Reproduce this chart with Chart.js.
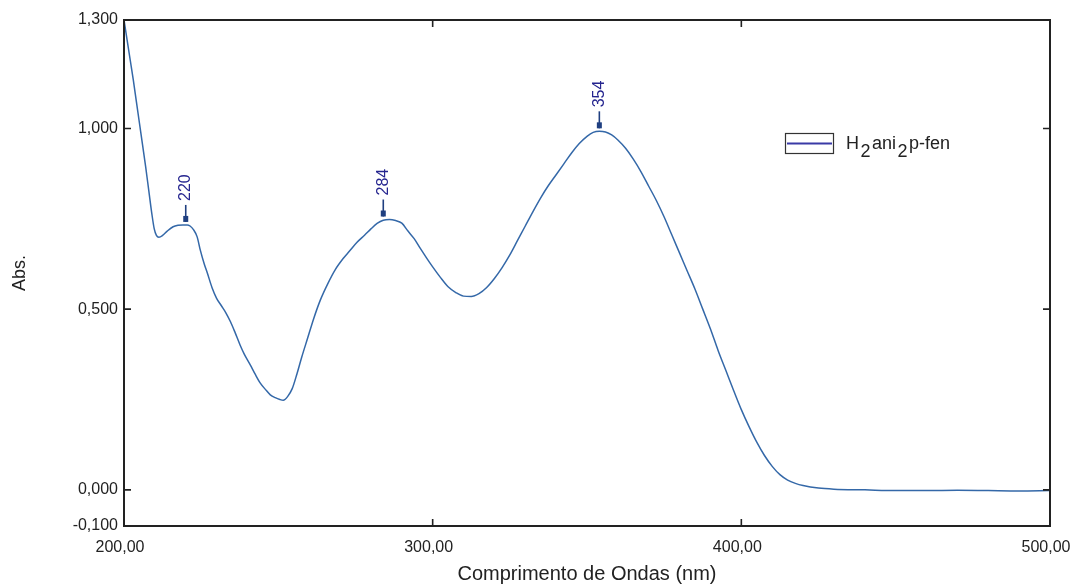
<!DOCTYPE html>
<html>
<head>
<meta charset="utf-8">
<script src="https://cdn.jsdelivr.net/npm/chart.js@4.4.1/dist/chart.umd.min.js"></script>
<style>
  html, body { margin: 0; padding: 0; background: #ffffff; }
  #wrap { width: 1072px; height: 586px; position: relative; }
</style>
</head>
<body>
<div id="wrap"><canvas id="c" width="1072" height="586"></canvas></div>
<script>
// ---- data ----
const wavelengths = [200.0,201.0,202.0,203.0,204.0,205.0,206.0,207.0,208.0,209.0,209.8,210.5,211.3,212.5,214.0,215.9,217.5,219.1,220.5,221.4,222.5,223.7,224.7,226.0,227.0,228.5,230.0,231.5,233.0,234.5,236.0,237.6,239.0,240.9,242.5,244.1,245.8,247.4,249.0,250.5,251.6,253.0,254.5,256.0,257.5,259.5,261.5,263.6,266.0,268.5,271.0,273.0,275.5,278.0,280.0,282.0,284.0,286.0,288.0,290.0,292.0,294.0,296.0,298.0,300.0,302.5,305.0,307.5,310.0,312.5,315.0,317.5,320.0,322.5,325.0,327.5,330.0,332.5,335.0,337.5,340.0,342.5,345.0,347.5,350.0,352.0,354.0,356.0,358.0,360.0,362.5,365.0,367.5,370.0,372.5,375.0,377.5,380.0,382.5,385.0,387.5,390.0,392.5,395.0,397.5,400.0,402.5,405.0,407.5,410.0,412.5,415.0,417.5,420.0,425.0,430.0,440.0,450.0,460.0,470.0,480.0,490.0,500.0];
const absorbance = [1.300,1.245,1.190,1.135,1.075,1.015,0.955,0.895,0.830,0.765,0.722,0.704,0.699,0.704,0.716,0.728,0.732,0.733,0.733,0.730,0.720,0.700,0.664,0.625,0.600,0.560,0.530,0.510,0.490,0.465,0.435,0.401,0.375,0.346,0.320,0.296,0.278,0.263,0.255,0.250,0.248,0.258,0.280,0.320,0.365,0.420,0.475,0.525,0.570,0.610,0.640,0.660,0.685,0.705,0.722,0.737,0.746,0.748,0.745,0.738,0.716,0.695,0.668,0.642,0.617,0.588,0.562,0.546,0.536,0.535,0.543,0.560,0.585,0.615,0.650,0.690,0.730,0.770,0.808,0.842,0.872,0.902,0.932,0.958,0.978,0.989,0.992,0.990,0.982,0.968,0.945,0.915,0.880,0.840,0.800,0.755,0.705,0.655,0.605,0.555,0.500,0.445,0.385,0.330,0.275,0.222,0.175,0.132,0.095,0.065,0.042,0.027,0.018,0.012,0.005,0.002,0.000,-0.002,-0.002,-0.001,-0.002,-0.003,-0.002];
const peakWavelengths = [220, 284, 354];
const peakAbsorbance = [0.733, 0.748, 0.992];
const peakLabels = ['220', '284', '354'];
const xTickValues = [200, 300, 400, 500];
const yTickValues = [-0.1, 0, 0.5, 1.0, 1.3];
const seriesName = ['H', '2', 'ani', '2', 'p-fen']; // alternating normal / subscript parts
const xTitle = 'Comprimento de Ondas (nm)';
const yTitle = 'Abs.';

const points = wavelengths.map((w, i) => ({ x: w, y: absorbance[i] }));
const FONT = '"Liberation Sans", Arial, sans-serif';

const framePlugin = {
  id: 'framePlugin',
  afterDatasetsDraw(chart) {
    const { ctx, chartArea: a, scales: { x, y } } = chart;
    ctx.save();
    // frame
    ctx.strokeStyle = '#222';
    ctx.lineWidth = 2;
    ctx.strokeRect(a.left, a.top, a.right - a.left, a.bottom - a.top);
    // inward ticks
    ctx.lineWidth = 1.6;
    const tl = 7;
    ctx.beginPath();
    xTickValues.forEach(v => {
      const px = x.getPixelForValue(v);
      ctx.moveTo(px, a.bottom); ctx.lineTo(px, a.bottom - tl);
      ctx.moveTo(px, a.top); ctx.lineTo(px, a.top + tl);
    });
    yTickValues.forEach(v => {
      const py = y.getPixelForValue(v);
      ctx.moveTo(a.left, py); ctx.lineTo(a.left + tl, py);
      ctx.moveTo(a.right, py); ctx.lineTo(a.right - tl, py);
    });
    ctx.stroke();

    // peak annotations
    peakWavelengths.forEach((w, i) => {
      const px = x.getPixelForValue(w);
      const py = y.getPixelForValue(peakAbsorbance[i]);
      ctx.strokeStyle = '#1f3f80';
      ctx.lineWidth = 1.6;
      ctx.beginPath();
      ctx.moveTo(px, py - 3);
      ctx.lineTo(px, py - 20);
      ctx.stroke();
      ctx.fillStyle = '#1f3f80';
      ctx.fillRect(px - 2.5, py - 9, 5, 6);
      ctx.save();
      ctx.translate(px, py - 24);
      ctx.rotate(-Math.PI / 2);
      ctx.fillStyle = '#25258f';
      ctx.font = '16px ' + FONT;
      ctx.textAlign = 'left';
      ctx.textBaseline = 'middle';
      ctx.fillText(peakLabels[i], 0, 0);
      ctx.restore();
    });

    // legend
    const lx = 785, ly = 133, lw = 48, lh = 20;
    ctx.fillStyle = '#fff';
    ctx.fillRect(lx, ly, lw, lh);
    ctx.strokeStyle = '#333';
    ctx.lineWidth = 1.2;
    ctx.strokeRect(lx + 0.5, ly + 0.5, lw, lh);
    ctx.strokeStyle = '#3a3aa6';
    ctx.lineWidth = 2;
    ctx.beginPath();
    ctx.moveTo(lx + 2, ly + lh / 2 + 0.5);
    ctx.lineTo(lx + lw - 1, ly + lh / 2 + 0.5);
    ctx.stroke();
    ctx.fillStyle = '#222';
    ctx.font = '18px ' + FONT;
    ctx.textAlign = 'left';
    ctx.textBaseline = 'alphabetic';
    let tx = 846;
    seriesName.forEach((part, i) => {
      const sub = i % 2 === 1;
      ctx.fillText(part, tx, sub ? 157 : 149);
      tx += ctx.measureText(part).width + 1.5;
    });
    ctx.restore();
  }
};

new Chart(document.getElementById('c'), {
  type: 'line',
  data: {
    datasets: [{
      label: 'H2ani2p-fen',
      data: points,
      borderColor: '#3468a8',
      borderWidth: 1.5,
      pointRadius: 0,
      fill: false,
      cubicInterpolationMode: 'monotone'
    }]
  },
  options: {
    responsive: false,
    animation: false,
    devicePixelRatio: 1,
    layout: { padding: { top: 20, right: 22, left: 0, bottom: 0 } },
    plugins: { legend: { display: false }, tooltip: { enabled: false } },
    scales: {
      x: {
        type: 'linear',
        min: 200, max: 500,
        afterBuildTicks: s => { s.ticks = xTickValues.map(v => ({ value: v })); },
        afterFit: s => { s.height = 60; s.paddingLeft = 0; s.paddingRight = 0; },
        grid: { display: false, drawTicks: false },
        border: { display: false },
        ticks: {
          padding: 12,
          labelOffset: -4,
          maxRotation: 0,
          color: '#222',
          font: { family: FONT, size: 16 },
          callback: v => Number(v).toFixed(2).replace('.', ',')
        },
        title: {
          display: true, text: xTitle, color: '#222',
          font: { family: FONT, size: 20 },
          padding: { top: 0, bottom: 0 }
        }
      },
      y: {
        min: -0.1, max: 1.3,
        afterBuildTicks: s => { s.ticks = yTickValues.map(v => ({ value: v })); },
        afterFit: s => { s.width = 124; s.paddingTop = 0; s.paddingBottom = 0; },
        grid: { display: false, drawTicks: false },
        border: { display: false },
        ticks: {
          padding: 6,
          color: '#222',
          font: { family: FONT, size: 16 },
          callback: v => Number(v).toFixed(3).replace('.', ',')
        },
        title: {
          display: true, text: yTitle, color: '#222',
          font: { family: FONT, size: 18 },
          padding: { top: 9, bottom: 0 }
        }
      }
    }
  },
  plugins: [framePlugin]
});
</script>
</body>
</html>
